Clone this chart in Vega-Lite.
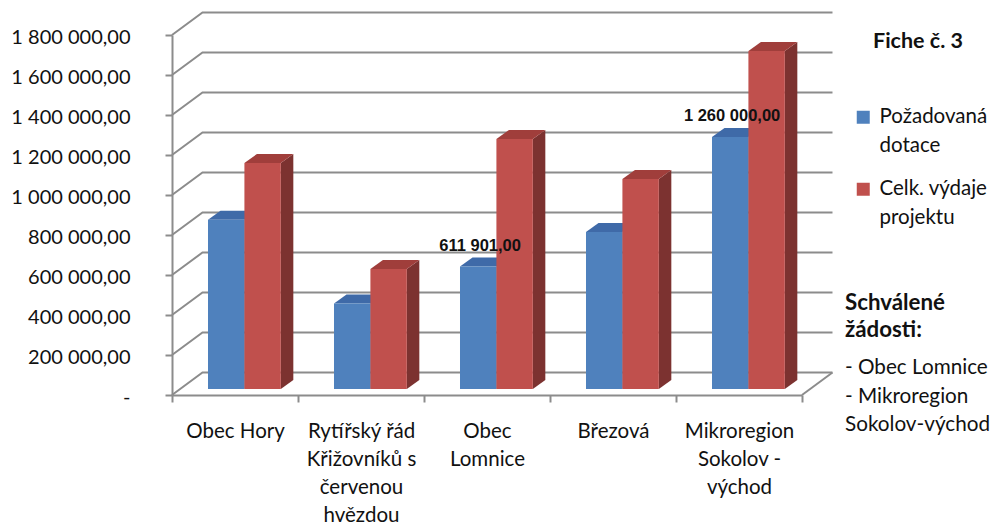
{
"$schema":"https://vega.github.io/schema/vega-lite/v6.json",
"width":630,"height":360,
"autosize":{"type":"none"},
"padding":{"left":172,"top":35,"right":190,"bottom":129},
"background":"white",
"config":{"view":{"stroke":null},"locale":{"number":{"decimal":",","thousands":" ","grouping":[3],"currency":["",""]}}},
"datasets":{
"bars":[
{"category":"Obec Hory","series":"Požadovaná dotace","value":846000},
{"category":"Obec Hory","series":"Celk. výdaje projektu","value":1130000},
{"category":"Rytířský řád Křižovníků s červenou hvězdou","series":"Požadovaná dotace","value":428000},
{"category":"Rytířský řád Křižovníků s červenou hvězdou","series":"Celk. výdaje projektu","value":600000},
{"category":"Obec Lomnice","series":"Požadovaná dotace","value":611901},
{"category":"Obec Lomnice","series":"Celk. výdaje projektu","value":1250000},
{"category":"Březová","series":"Požadovaná dotace","value":785000},
{"category":"Březová","series":"Celk. výdaje projektu","value":1050000},
{"category":"Mikroregion Sokolov - východ","series":"Požadovaná dotace","value":1260000},
{"category":"Mikroregion Sokolov - východ","series":"Celk. výdaje projektu","value":1690000}
],
"grid":[{"level":0},{"level":200000},{"level":400000},{"level":600000},{"level":800000},{"level":1000000},{"level":1200000},{"level":1400000},{"level":1600000},{"level":1800000}]
},
"data":{"name":"bars"},
"transform":[
{"calculate":"indexof(['Obec Hory','Rytířský řád Křižovníků s červenou hvězdou','Obec Lomnice','Březová','Mikroregion Sokolov - východ'],datum.category)","as":"idx"},
{"calculate":"datum.idx+0.2857+(datum.series=='Celk. výdaje projektu'?0.289:0)","as":"x0"},
{"calculate":"datum.x0+0.289","as":"x1"},
{"calculate":"datum.value+30000","as":"top"},
{"calculate":"datum.category+datum.series","as":"key"}
],
"layer":[
{
"data":{"name":"grid"},
"transform":[
{"calculate":"[0,1,2]","as":"t"},
{"flatten":["t"]},
{"calculate":"datum.t==0?0:(datum.t==1?0.242:5.242)","as":"gx"},
{"calculate":"datum.level+(datum.t==0?0:112500)","as":"gy"}
],
"mark":{"type":"line","color":"#8c8c8c","strokeWidth":2,"clip":false},
"encoding":{
"x":{"field":"gx","type":"quantitative","scale":{"domain":[0,5],"nice":false,"zero":false},
"axis":{"title":null,"grid":false,"values":[0,0.5,1,1.5,2,2.5,3,3.5,4,4.5,5],"tickCount":20,
"domainColor":"#8c8c8c","domainWidth":2,"tickColor":"#8c8c8c","tickWidth":2,"tickSize":7,
"tickOpacity":{"condition":{"test":"datum.value%1==0","value":1},"value":0},
"labelFont":"Lato","labelFontSize":20.5,"labelColor":"#111111","labelPadding":19,"labelLineHeight":28,"labelAngle":0,"labelAlign":"center","labelBaseline":"top","labelOverlap":false,"labelFlush":false,"labelBound":false,"labelLimit":300,
"labelExpr":"datum.value==0.5?['Obec Hory']:datum.value==1.5?['Rytířský řád','Křižovníků s','červenou','hvězdou']:datum.value==2.5?['Obec','Lomnice']:datum.value==3.5?['Březová']:datum.value==4.5?['Mikroregion','Sokolov -','východ']:''"}},
"y":{"field":"gy","type":"quantitative","scale":{"domain":[0,1800000],"nice":false,"zero":false},
"axis":{"title":null,"grid":false,"values":[0,200000,400000,600000,800000,1000000,1200000,1400000,1600000,1800000],"tickCount":20,
"format":",.2f","domainColor":"#8c8c8c","domainWidth":2,"tickColor":"#8c8c8c","tickWidth":2,"tickSize":7,
"labelFont":"Lato","labelFontSize":20,"labelColor":"#111111","labelPadding":35,"labelOffset":2,"labelOverlap":false,"labelBound":false,"labelFlush":false,"labelLimit":300,
"labelExpr":"datum.value==0?'-\u00a0\u00a0\u00a0':datum.label"}},
"detail":{"field":"level"},
"order":{"field":"t"}
}
},
{
"data":{"values":[{"edge":"floor"}]},
"mark":{"type":"rule","color":"#8c8c8c","strokeWidth":2,"clip":false},
"encoding":{
"x":{"datum":5,"type":"quantitative","scale":{"domain":[0,5],"nice":false,"zero":false}},
"x2":{"datum":5.242},
"y":{"datum":0,"type":"quantitative","scale":{"domain":[0,1800000],"nice":false,"zero":false}},
"y2":{"datum":112500}
}
},
{
"transform":[
{"calculate":"[0,1]","as":"t"},{"flatten":["t"]},
{"calculate":"datum.x1+datum.t*0.0992","as":"sx"},
{"calculate":"datum.top+datum.t*45000","as":"sTop"},
{"calculate":"30000+datum.t*45000","as":"sBase"}
],
"mark":{"type":"area","clip":false,"orient":"vertical"},
"encoding":{
"x":{"field":"sx","type":"quantitative","scale":{"domain":[0,5],"nice":false,"zero":false}},
"y":{"field":"sTop","type":"quantitative","stack":null,"scale":{"domain":[0,1800000],"nice":false,"zero":false}},
"y2":{"field":"sBase"},
"detail":{"field":"key"},
"fill":{"condition":{"test":"datum.series=='Požadovaná dotace'","value":"#3A5F8F"},"value":"#7C3230"}
}
},
{
"transform":[
{"calculate":"[0,1]","as":"t"},{"flatten":["t"]},
{"calculate":"datum.x0+datum.t*0.0992","as":"ta"},
{"calculate":"datum.x1+datum.t*0.0992","as":"tb"},
{"calculate":"datum.top+datum.t*45000","as":"ty"}
],
"mark":{"type":"area","clip":false,"orient":"horizontal"},
"encoding":{
"y":{"field":"ty","type":"quantitative","scale":{"domain":[0,1800000],"nice":false,"zero":false}},
"x":{"field":"ta","type":"quantitative","stack":null,"scale":{"domain":[0,5],"nice":false,"zero":false}},
"x2":{"field":"tb"},
"detail":{"field":"key"},
"fill":{"condition":{"test":"datum.series=='Požadovaná dotace'","value":"#3F6AA8"},"value":"#A03E3B"}
}
},
{
"mark":{"type":"rect","clip":false},
"encoding":{
"x":{"field":"x0","type":"quantitative","scale":{"domain":[0,5],"nice":false,"zero":false}},
"x2":{"field":"x1"},
"y":{"field":"top","type":"quantitative","scale":{"domain":[0,1800000],"nice":false,"zero":false}},
"y2":{"datum":30000},
"color":{"field":"series","type":"nominal","scale":{"domain":["Požadovaná dotace","Celk. výdaje projektu"],"range":["#4F81BD","#C0504D"]},
"legend":{"title":null,"orient":"none","legendX":681,"legendY":72,"symbolType":"square","symbolSize":169,"symbolStrokeWidth":0,"labelFont":"Lato","labelFontSize":20.5,"labelColor":"#111111","labelLimit":200,"labelOffset":6,"rowPadding":22,
"encode":{"labels":{"update":{"lineHeight":{"value":29}}}},
"labelExpr":"datum.label=='Požadovaná dotace'?['Požadovaná','dotace']:['Celk. výdaje','projektu']"}}
}
},
{
"transform":[{"filter":"datum.value==611901||datum.value==1260000"},{"calculate":"(datum.x0+datum.x1)/2+0.015","as":"lx"}],
"mark":{"type":"text","font":"Liberation Sans","fontWeight":"bold","fontSize":16.5,"color":"#111111","baseline":"alphabetic","dy":-16,"clip":false},
"encoding":{
"x":{"field":"lx","type":"quantitative","scale":{"domain":[0,5],"nice":false,"zero":false}},
"y":{"field":"top","type":"quantitative","scale":{"domain":[0,1800000],"nice":false,"zero":false}},
"text":{"field":"value","type":"quantitative","format":",.2f"}
}
},
{
"data":{"values":[{"note":"Fiche č. 3"}]},
"mark":{"type":"text","font":"Lato","fontWeight":"bold","fontSize":21.5,"color":"#111111","align":"left","baseline":"middle","clip":false},
"encoding":{"x":{"value":701},"y":{"value":7},"text":{"field":"note"}}
},
{
"data":{"values":[{"note":"Schválené\nžádosti:"}]},
"mark":{"type":"text","font":"Lato","fontWeight":"bold","fontSize":22.3,"color":"#111111","align":"left","baseline":"top","lineBreak":"\n","lineHeight":27,"clip":false},
"encoding":{"x":{"value":673},"y":{"value":257},"text":{"field":"note"}}
},
{
"data":{"values":[{"note":"- Obec Lomnice\n- Mikroregion\nSokolov-východ"}]},
"mark":{"type":"text","font":"Lato","fontSize":20.7,"color":"#111111","align":"left","baseline":"top","lineBreak":"\n","lineHeight":28.5,"clip":false},
"encoding":{"x":{"value":673},"y":{"value":323},"text":{"field":"note"}}
}
]
}
